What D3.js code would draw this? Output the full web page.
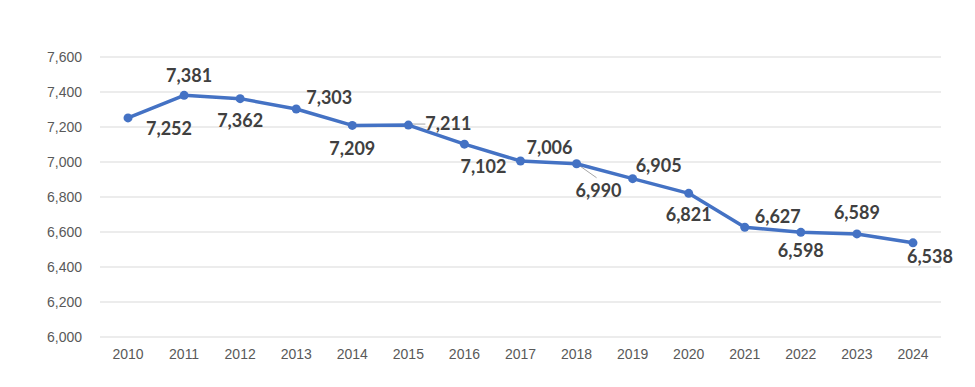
<!DOCTYPE html>
<html>
<head>
<meta charset="utf-8">
<script src="https://cdn.jsdelivr.net/npm/d3@7"></script>
<style>
  body { margin: 0; background: #fff; }
  svg { display: block; font-family: Lato, "Open Sans", sans-serif; }
</style>
</head>
<body>
<div id="chart"></div>
<script>
// chart values
const years = ["2010", "2011", "2012", "2013", "2014", "2015", "2016", "2017",
  "2018", "2019", "2020", "2021", "2022", "2023", "2024"];
const counts = [7252, 7381, 7362, 7303, 7209, 7211, 7102, 7006,
  6990, 6905, 6821, 6627, 6598, 6589, 6538];
const yTicks = [6000, 6200, 6400, 6600, 6800, 7000, 7200, 7400, 7600];

// where each data label sits relative to its point (px)
const labelOffsets = [[41, 11], [5, -20], [0, 22], [33, -11], [0, 23], [40, -1], [19, 23],
  [29, -13], [22, 27], [26, -13], [0, 21], [33, -11], [0, 18], [0, -21], [17, 14]];
const leaderIdx = [5, 8];

const width = 975;
const height = 387;
const margin = { top: 57, right: 34, bottom: 50, left: 100 };
const innerWidth = width - margin.left - margin.right;
const innerHeight = height - margin.top - margin.bottom;

const svg = d3.select("#chart")
  .append("svg")
  .attr("width", width)
  .attr("height", height);

const chart = svg.append("g")
  .attr("transform", `translate(${margin.left}, ${margin.top})`);

const xScale = d3.scaleBand()
  .domain(years)
  .range([0, innerWidth]);

const yScale = d3.scaleLinear()
  .domain([6000, 7600])
  .range([innerHeight, 0]);

// gridlines
chart.selectAll(".grid")
  .data(yTicks)
  .enter()
  .append("line")
  .attr("x1", 0)
  .attr("x2", innerWidth)
  .attr("y1", d => yScale(d))
  .attr("y2", d => yScale(d))
  .attr("stroke", "#d9d9d9")
  .attr("stroke-width", 1);

// Y axis
const yAxis = d3.axisLeft(yScale)
  .tickValues(yTicks)
  .tickFormat(d3.format(","))
  .tickSize(0)
  .tickPadding(18);
const yg = chart.append("g").call(yAxis);
yg.select(".domain").remove();
yg.selectAll("text")
  .attr("fill", "#595959")
  .style("font-size", "14px");

// X axis
const xAxis = d3.axisBottom(xScale).tickSize(0).tickPadding(12);
const xg = chart.append("g")
  .attr("transform", `translate(0, ${innerHeight})`)
  .call(xAxis);
xg.select(".domain").remove();
xg.selectAll("text")
  .attr("fill", "#595959")
  .style("font-size", "14px");

const px = i => xScale(years[i]) + xScale.bandwidth() / 2;
const py = i => yScale(counts[i]);

// leader lines
chart.selectAll(".leader")
  .data(leaderIdx)
  .enter()
  .append("line")
  .attr("x1", i => px(i) + 3)
  .attr("y1", i => py(i) + (i === 8 ? 2 : -1))
  .attr("x2", i => px(i) + labelOffsets[i][0] - (i === 8 ? 2 : 23))
  .attr("y2", i => py(i) + labelOffsets[i][1] - (i === 8 ? 13 : 0))
  .attr("stroke", "#a6a6a6")
  .attr("stroke-width", 1);

// line
const line = d3.line()
  .x((d, i) => px(i))
  .y(d => yScale(d));

chart.append("path")
  .datum(counts)
  .attr("fill", "none")
  .attr("stroke", "#4472c4")
  .attr("stroke-width", 3.5)
  .attr("stroke-linejoin", "round")
  .attr("d", line);

chart.selectAll(".dot")
  .data(counts)
  .enter()
  .append("circle")
  .attr("cx", (d, i) => px(i))
  .attr("cy", d => yScale(d))
  .attr("r", 4.5)
  .attr("fill", "#4472c4");

// data labels
chart.selectAll(".lbl")
  .data(counts)
  .enter()
  .append("text")
  .attr("x", (d, i) => px(i) + labelOffsets[i][0])
  .attr("y", (d, i) => py(i) + labelOffsets[i][1])
  .attr("dy", "0.35em")
  .attr("text-anchor", "middle")
  .attr("fill", "#404040")
  .style("font-size", "18px")
  .style("font-weight", "bold")
  .text(d => d3.format(",")(d));
</script>
</body>
</html>
